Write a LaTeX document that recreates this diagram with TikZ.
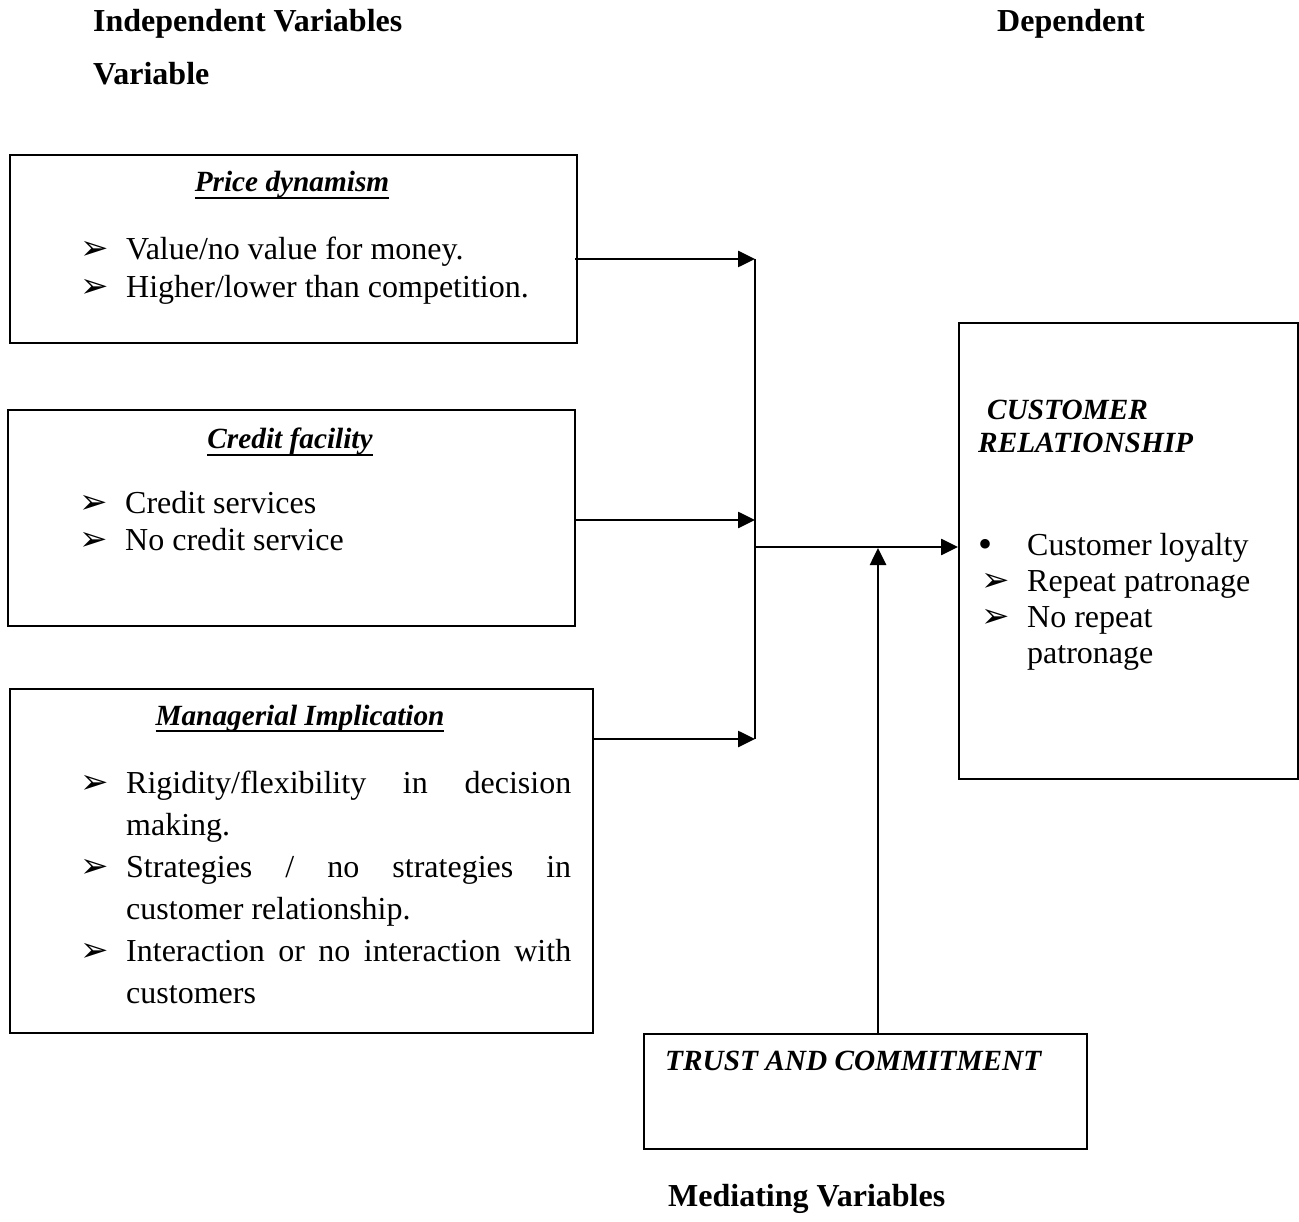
\documentclass[tikz,border=0pt]{standalone}
\usepackage{fontspec}
\setmainfont{Liberation Serif}
\newfontfamily\dejavu{DejaVu Sans}
\usetikzlibrary{arrows.meta,calc}
\newcommand{\ulx}[1]{\leavevmode\setbox0\hbox{#1}\rlap{\rule[-7pt]{\wd0}{1.8pt}}\box0}
\newcommand{\arrb}{\makebox[46pt][l]{{\dejavu\fontsize{34}{34}\selectfont ➢}}}
\begin{document}
\begin{tikzpicture}[x=1pt,y=-1pt,
  box/.style={draw, line width=2pt, anchor=north west, inner sep=0pt},
  txt/.style={anchor=base west, inner sep=0pt, font=\fontsize{32}{37}\selectfont},
  ttl/.style={anchor=base, inner sep=0pt, font=\fontsize{29.3}{34}\selectfont\bfseries\itshape},
  hdr/.style={anchor=base west, inner sep=0pt, font=\fontsize{32}{37}\selectfont\bfseries},
  conn/.style={line width=2.6pt},
  arr/.style={conn, -{Triangle[length=17pt,width=16pt]}}]
\useasboundingbox (0,0) rectangle (1299,1222);

% headers
\node[hdr] (h1) at (93,32) {Independent Variables};
\node[hdr] (h2) at (93,85) {Variable};
\node[hdr] (h3) at (997,32) {Dependent};
\node[hdr] (h4) at (668,1206) {Mediating Variables};

% boxes
\node[box, minimum width=567pt, minimum height=188pt] (price) at (9,154) {};
\node[box, minimum width=567pt, minimum height=216pt] (credit) at (7,409) {};
\node[box, minimum width=583pt, minimum height=344pt] (manag) at (9,688) {};
\node[box, minimum width=339pt, minimum height=456pt] (cust) at (958,322) {};
\node[box, minimum width=443pt, minimum height=115pt] (trust) at (643,1033) {};

% price dynamism
\node[ttl] (pt) at (292,192) {\ulx{Price dynamism}};
\node[txt] (p1) at (80,260) {\arrb Value/no value for money.};
\node[txt] (p2) at (80,298) {\arrb Higher/lower than competition.};

% credit facility
\node[ttl] (ct) at (290,449) {\ulx{Credit facility}};
\node[txt] (c1) at (79,513) {\arrb Credit services};
\node[txt] (c2) at (79,550) {\arrb No credit service};

% managerial implication
\node[ttl] (mt) at (300,725) {\ulx{Managerial Implication}};
\node[txt] (m1) at (80,793) {\arrb\makebox[445pt][s]{Rigidity/flexibility in decision}};
\node[txt] (m1b) at (126,835) {making.};
\node[txt] (m2) at (80,877) {\arrb\makebox[445pt][s]{Strategies / no strategies in}};
\node[txt] (m2b) at (126,919) {customer relationship.};
\node[txt] (m3) at (80,961) {\arrb\makebox[445pt][s]{Interaction or no interaction with}};
\node[txt] (m3b) at (126,1003) {customers};

% customer relationship
\node[ttl, anchor=base west] (cu1) at (987,420) {CUSTOMER};
\node[ttl, anchor=base west] (cu2) at (978,453) {RELATIONSHIP};
\node[txt] (k1) at (978,555) {\makebox[49pt][l]{\raisebox{-2pt}{\fontsize{40}{40}\selectfont•}}Customer loyalty};
\node[txt] (k2) at (981,591) {\arrb Repeat patronage};
\node[txt] (k3) at (981,627) {\arrb No repeat};
\node[txt] (k4) at (1027,663) {patronage};

% trust
\node[ttl, anchor=base west] (tt) at (665,1070) {TRUST AND COMMITMENT};

% connectors
\coordinate (j1) at (755,259);
\coordinate (j2) at (755,520);
\coordinate (j3) at (755,739);
\coordinate (jm) at (755,547);
\coordinate (m) at (878,548);
\draw[arr] ($(price.east |- j1)+(-3,0)$) -- (j1);
\draw[arr] (credit.east |- j2) -- (j2);
\draw[arr] (manag.east |- j3) -- (j3);
\draw[conn] (j1) -- (j3);
\draw[arr] (jm) -- (cust.west |- jm);
\draw[arr] (trust.north -| m) -- (m);
\end{tikzpicture}
\end{document}
